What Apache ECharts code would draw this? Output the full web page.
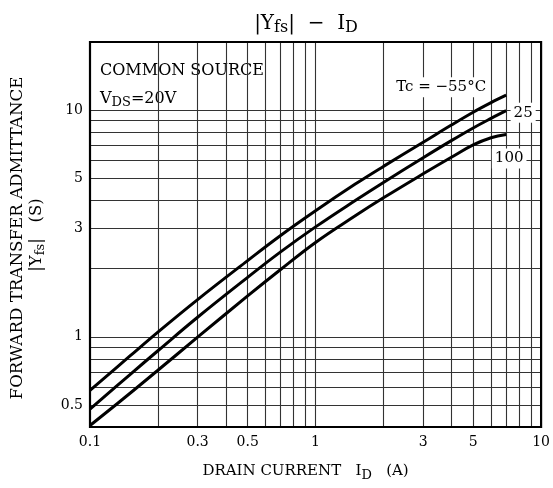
<!DOCTYPE html>
<html><head><meta charset="utf-8">
<script src="https://cdn.jsdelivr.net/npm/echarts@6/dist/echarts.min.js"></script>
<style>html,body{margin:0;padding:0;background:#fff}#c{width:553px;height:488px}</style>
</head><body><div id="c"></div>
<script>
// Drain current I_D (A)
const current = [0.1, 0.15, 0.2, 0.3, 0.5, 0.7, 1, 1.5, 2, 3, 4, 5, 6, 7];
// |Yfs| (S) for each case temperature
const yfsM55 = [0.58, 0.821, 1.049, 1.46, 2.17, 2.80, 3.60, 4.72, 5.65, 7.22, 8.6, 9.8, 10.8, 11.65];
const yfs25  = [0.48, 0.68, 0.868, 1.22, 1.83, 2.37, 3.056, 3.995, 4.80, 6.17, 7.34, 8.35, 9.2, 9.95];
const yfs100 = [0.406, 0.562, 0.712, 0.996, 1.515, 1.982, 2.61, 3.42, 4.105, 5.24, 6.2, 7.03, 7.56, 7.82];
const curveLabels = ['Tc = −55°C', '25', '100'];
// axis tick labels
const xTickLabels = [0.1, 0.3, 0.5, 1, 3, 5, 10];
const yTickLabels = [0.5, 1, 3, 5, 10];
// grid lines
const xGrid = [0.2,0.3,0.4,0.5,0.6,0.7,0.8,0.9,1,2,3,4,5,6,7,8,9];
const yGrid = [0.5,0.6,0.7,0.8,0.9,1,2,3,4,5,6,7,8,9,10];

const FONT = 'DejaVu Serif';
const fmt = v => String(+(+v).toPrecision(3));
const txt = (fs, extra) => Object.assign({fontFamily: FONT, fontSize: fs, color: '#000', fontWeight: 'normal'}, extra || {});
const sub = (fs, pad) => txt(fs, {padding: [pad, 0, 0, 0]});

function curve(name, data, label, off) {
  const pts = current.map((x, i) => [x, data[i]]);
  const last = pts[pts.length - 1];
  return {
    type: 'line', name, data: pts, z: 5, smooth: 0.4, showSymbol: false, symbol: 'none',
    lineStyle: {color: '#000', width: 3}, silent: true,
    markPoint: {
      symbol: 'rect', symbolSize: 0, silent: true, z: 6,
      data: [{coord: last, value: label}],
      label: {show: true, formatter: label, offset: off, fontFamily: FONT, fontSize: 15, color: '#000',
        backgroundColor: '#fff', padding: [3, 3, 2, 3]}
    }
  };
}

const chart = echarts.init(document.getElementById('c'), null, {renderer: 'canvas'});
chart.setOption({
  animation: false,
  backgroundColor: '#fff',
  grid: {left: 90, right: 11, top: 42, bottom: 61, show: true, borderColor: '#000', borderWidth: 2.2,
    backgroundColor: 'transparent', z: 10},
  title: {
    text: '{n||Y}{s|fs}{n||  −  I}{s|D}', left: 301, top: 6, textAlign: 'center',
    textStyle: {fontWeight: 'normal', rich: {n: txt(20), s: sub(16, 9)}}
  },
  xAxis: {
    type: 'log', logBase: 10, min: 0.1, max: 10,
    axisLine: {show: false}, axisTick: {show: false}, splitLine: {show: false},
    axisLabel: {customValues: xTickLabels, formatter: fmt, fontFamily: FONT, fontSize: 14, color: '#000', margin: 8},
    name: '{n|DRAIN CURRENT   I}{s|D}{n|   (A)}', nameLocation: 'middle', nameGap: 33,
    nameTextStyle: {padding: [0, 20, 0, 0], rich: {n: txt(15), s: sub(13, 9)}}
  },
  yAxis: {
    type: 'log', logBase: 10, min: 0.4, max: 20,
    axisLine: {show: false}, axisTick: {show: false}, splitLine: {show: false},
    axisLabel: {customValues: yTickLabels, formatter: fmt, fontFamily: FONT, fontSize: 14, color: '#000', margin: 7}
  },
  graphic: [
    {type: 'text', x: 18, y: 238, rotation: Math.PI / 2, silent: true,
      style: {text: 'FORWARD TRANSFER ADMITTANCE', fontFamily: FONT, fontSize: 16.7, fill: '#000',
        textAlign: 'center', textVerticalAlign: 'middle'}},
    {type: 'text', x: 37, y: 235, rotation: Math.PI / 2, silent: true,
      style: {text: '{n||Y}{s|fs}{n||   (S)}', fill: '#000', textAlign: 'center', textVerticalAlign: 'middle',
        rich: {n: txt(16.5), s: sub(13, 8)}}}
  ],
  series: [
    {type: 'line', data: [], z: 1, silent: true,
      markLine: {symbol: ['none', 'none'], silent: true, label: {show: false},
        lineStyle: {color: '#333', width: 1.1, type: 'solid'},
        data: [...xGrid.map(v => ({xAxis: v})), ...yGrid.map(v => ({yAxis: v}))]}},
    {type: 'line', data: [], z: 2, silent: true,
      markArea: {silent: true, itemStyle: {color: '#fff', opacity: 1},
        label: {show: true, position: [10, 15], formatter: '{n|COMMON SOURCE}\n{n|V}{s|DS}{n|=20V}',
          rich: {n: txt(16, {lineHeight: 28}), s: sub(13, 8)}},
        data: [[{xAxis: 0.1, yAxis: 20}, {xAxis: 0.7, yAxis: 9.45}]]}},
    curve(curveLabels[0], yfsM55, curveLabels[0], [-65, -8]),
    curve(curveLabels[1], yfs25, curveLabels[1], [17, 2]),
    curve(curveLabels[2], yfs100, curveLabels[2], [3, 24])
  ]
});
</script></body></html>
